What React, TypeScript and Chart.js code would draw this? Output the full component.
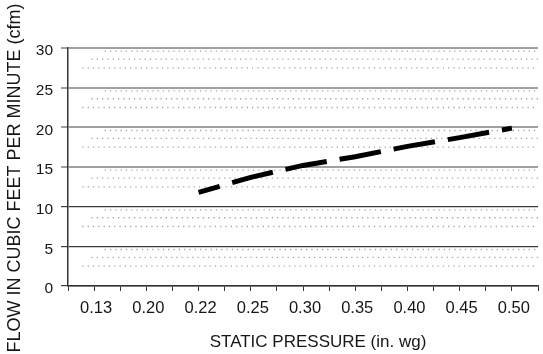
import React, { useEffect, useRef } from "react";
import { Chart, registerables } from "chart.js";

Chart.register(...registerables);

// x axis tick labels (one per tick mark, blank where the tick has no label)
const xTickLabels = ["", "0.13", "", "0.20", "", "0.22", "", "0.25", "", "0.30", "", "0.35", "", "0.40", "", "0.45", "", "0.50", ""];
// measured series
const pressures = ["0.22", "0.25", "0.30", "0.35", "0.40", "0.45", "0.50"];
const flowCfm = [11.8, 13.7, 15.2, 16.3, 17.6, 18.7, 19.9];
// y axis
const yMin = 0;
const yMax = 30;
const yStep = 5;
// faint dotted background rows inside every 5-cfm band
const textureBands = [0, 5, 10, 15, 20, 25];
const textureOffsets = [4.6, 3.6, 2.5];
const textureStarts = [1.4, 0.9, 0.55];

const xTitle = "STATIC PRESSURE (in. wg)";
const yTitle = "FLOW IN CUBIC FEET PER MINUTE (cfm)";

const FONT = '"Liberation Sans", Arial, Helvetica, sans-serif';
const TEXT = "#161616";

export default function App() {
  const canvasRef = useRef<HTMLCanvasElement | null>(null);

  useEffect(() => {
    const canvas = canvasRef.current;
    if (!canvas) return;

    const lastX = xTickLabels.length - 1;
    const mainData = pressures.map((p, i) => ({ x: xTickLabels.indexOf(p), y: flowCfm[i] }));

    const textureSets: any[] = [];
    textureBands.forEach((b) => {
      textureOffsets.forEach((off, r) => {
        textureSets.push({
          data: [
            { x: textureStarts[r], y: b + off },
            { x: lastX, y: b + off },
          ],
          borderColor: "#a6a6a6",
          borderWidth: 1.3,
          borderDash: [1.3, 4],
          pointRadius: 0,
          fill: false,
          tension: 0,
        });
      });
    });

    const titlesPlugin = {
      id: "axisTitlesPlugin",
      afterDraw(chart: any) {
        const { ctx, chartArea } = chart;
        ctx.save();
        ctx.fillStyle = TEXT;
        ctx.textAlign = "center";
        ctx.textBaseline = "middle";
        ctx.font = `17px ${FONT}`;
        ctx.fillText(xTitle, chartArea.left + 250, chartArea.bottom + 56);
        ctx.translate(chartArea.left - 53, (chartArea.top + chartArea.bottom) / 2 + 11);
        ctx.rotate(-Math.PI / 2);
        ctx.font = `18px ${FONT}`;
        ctx.fillText(yTitle, 0, 0);
        ctx.restore();
      },
    };

    const chart = new Chart(canvas, {
      type: "line",
      data: {
        datasets: [
          {
            data: mainData,
            borderColor: "#000",
            borderWidth: 5,
            borderDash: [42, 13],
            borderDashOffset: 20,
            borderCapStyle: "butt",
            pointRadius: 0,
            fill: false,
            tension: 0,
          },
          ...textureSets,
        ],
      },
      options: {
        animation: false,
        responsive: true,
        maintainAspectRatio: false,
        layout: { padding: { top: 48, left: 0, right: 0, bottom: 0 } },
        plugins: { legend: { display: false }, tooltip: { enabled: false }, title: { display: false } },
        scales: {
          x: {
            type: "linear",
            min: 0,
            max: lastX,
            afterBuildTicks: (scale: any) => {
              scale.ticks = xTickLabels.map((_, i) => ({ value: i }));
            },
            afterFit: (scale: any) => {
              scale.height = 68;
            },
            ticks: {
              stepSize: 1,
              maxTicksLimit: 40,
              autoSkip: false,
              maxRotation: 0,
              minRotation: 0,
              padding: 8,
              labelOffset: 2,
              color: TEXT,
              font: { family: FONT, size: 16.5 },
              callback: (v: any) => xTickLabels[Math.round(Number(v))] ?? "",
            },
            grid: {
              drawOnChartArea: false,
              drawTicks: true,
              tickLength: 5,
              tickColor: "#333",
              lineWidth: 1,
            },
            border: { display: true, color: "#333", width: 1.5 },
            title: { display: false },
          },
          y: {
            type: "linear",
            min: yMin,
            max: yMax,
            afterFit: (scale: any) => {
              scale.width = 68;
            },
            ticks: {
              stepSize: yStep,
              padding: 8,
              labelOffset: 3,
              color: TEXT,
              font: { family: FONT, size: 15.5 },
            },
            grid: {
              drawOnChartArea: true,
              drawTicks: true,
              tickLength: 7,
              color: (c: any) => (c.tick && c.tick.value >= 15 ? "#a0a0a0" : "#3c3c3c"),
              lineWidth: (c: any) => (c.tick && c.tick.value >= 15 ? 2 : 1.2),
            },
            border: { display: true, color: "#333", width: 1.5 },
            title: { display: false },
          },
        },
      },
      plugins: [titlesPlugin],
    } as any);

    return () => chart.destroy();
  }, []);

  return (
    <div
      style={{
        position: "fixed",
        left: 0,
        top: 0,
        width: 543,
        height: 354,
        overflow: "hidden",
        background: "#fff",
      }}
    >
      <div style={{ position: "relative", width: 546, height: 354 }}>
        <canvas ref={canvasRef} />
      </div>
    </div>
  );
}
